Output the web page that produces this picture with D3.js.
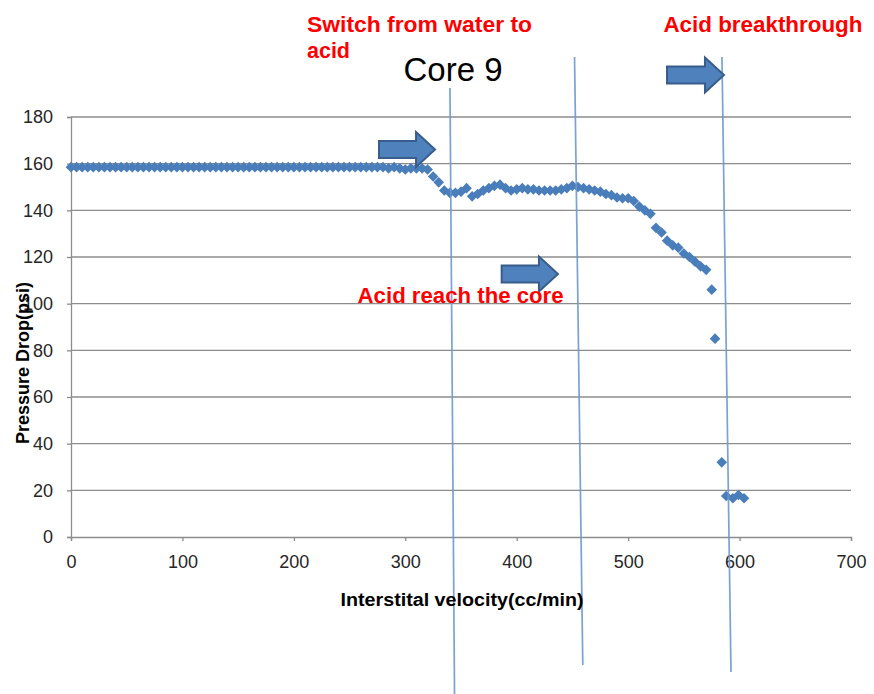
<!DOCTYPE html>
<html>
<head>
<meta charset="utf-8">
<script src="https://cdnjs.cloudflare.com/ajax/libs/d3/7.8.5/d3.min.js"></script>
<style>
  html, body { margin: 0; padding: 0; background: #ffffff; }
  svg { display: block; }
  text { font-family: "Liberation Sans", Arial, sans-serif; }
</style>
</head>
<body>
<svg id="chart" width="874" height="694"></svg>
<script>
// ---------- data ----------
const velocity = [
  0, 5, 10, 15, 20, 25, 30, 35, 40, 45, 50, 55, 60, 65, 70, 75, 80, 85, 90, 95,
  100, 105, 110, 115, 120, 125, 130, 135, 140, 145, 150, 155, 160, 165, 170, 175, 180, 185, 190, 195,
  200, 205, 210, 215, 220, 225, 230, 235, 240, 245, 250, 255, 260, 265, 270, 275, 280, 285, 290, 295,
  300, 305, 310, 315, 320, 325, 330, 335, 340, 345, 350, 355, 360, 365, 370, 375, 380, 385, 390, 395,
  400, 405, 410, 415, 420, 425, 430, 435, 440, 445, 450, 455, 460, 465, 470, 475, 480, 485, 490, 495,
  500, 505, 510, 515, 520, 525, 530, 535, 540, 545, 550, 555, 560, 565, 570, 575, 578, 584, 588, 594,
  599, 604
];
const pressureDrop = [
  158.5, 158.5, 158.5, 158.5, 158.5, 158.5, 158.5, 158.5, 158.5, 158.5, 158.5, 158.5, 158.5, 158.5, 158.5, 158.5, 158.5, 158.5, 158.5, 158.5,
  158.5, 158.5, 158.5, 158.5, 158.5, 158.5, 158.5, 158.5, 158.5, 158.5, 158.5, 158.5, 158.5, 158.5, 158.5, 158.5, 158.5, 158.5, 158.5, 158.5,
  158.5, 158.5, 158.5, 158.5, 158.5, 158.5, 158.5, 158.5, 158.5, 158.5, 158.5, 158.5, 158.5, 158.5, 158.5, 158.5, 158.5, 158, 158.5, 158,
  157.5, 158, 158, 158, 157.5, 154.5, 152, 148.5, 147.5, 147.5, 148, 149.5, 146, 147, 148.5, 149.5, 150.5, 151, 149.5, 148.5,
  149, 149.5, 149, 149, 148.5, 148.5, 148.5, 148.5, 149, 149.5, 150.5, 150, 149.5, 149, 148.5, 148, 147, 146.5, 145.5, 145.2,
  145.2, 144, 141.6, 140, 138.5, 132.5, 130.5, 127, 125, 124, 121.5, 120, 118, 116, 114.5, 106, 85, 32, 17.6, 16.6,
  18, 16.6
];
const xTicks = [0, 100, 200, 300, 400, 500, 600, 700];
const yTicks = [0, 20, 40, 60, 80, 100, 120, 140, 160, 180];

const chartTitle = "Core 9";
const xTitle = "Interstital velocity(cc/min)";
const yTitle = "Pressure Drop(psi)";

// annotation lines: [x1, y1, x2, y2] in data units
const markerLineNames = ["switch", "reach", "breakthrough"];
const markerLineX1 = [340.1, 451.9, 584.2];
const markerLineY1 = [192.4, 205.7, 205.7];
const markerLineX2 = [344.2, 459.3, 592.3];
const markerLineY2 = [-67.3, -54.9, -57.9];

// block arrows: tail x, tip x, centre y (data units)
const arrowTailX = [276.4, 386.5, 534.9];
const arrowTipX  = [326.7, 437.0, 586.0];
const arrowY     = [166.1, 112.7, 198.0];

// red annotation labels (left x, baseline y in data units)
const noteLines = ["Switch from water to", "acid", "Acid breakthrough", "Acid reach the core"];
const noteX = [211.8, 211.8, 531.7, 257.2];
const noteY = [216.5, 205.3, 216.5, 100.3];
const noteWidth = [225, 43, 199, 206];

// ---------- layout ----------
const svg = d3.select("#chart");
const W = 874, H = 694;
const plot = { left: 71, right: 851, top: 117, bottom: 537 };

const x = d3.scaleLinear().domain([0, 700]).range([plot.left, plot.right]);
const y = d3.scaleLinear().domain([0, 180]).range([plot.bottom, plot.top]);

svg.append("rect").attr("width", W).attr("height", H).attr("fill", "#ffffff");

// gridlines
svg.append("g")
  .attr("class", "grid")
  .selectAll("line")
  .data(yTicks.filter(d => d > 0))
  .join("line")
  .attr("x1", plot.left).attr("x2", plot.right)
  .attr("y1", d => y(d)).attr("y2", d => y(d))
  .attr("stroke", "#8c8c8c").attr("stroke-width", 1.3);

// y axis
const yAxis = svg.append("g")
  .attr("transform", `translate(${plot.left},0)`)
  .call(d3.axisLeft(y).tickValues(yTicks).tickSize(4).tickPadding(14).tickFormat(d3.format("d")));
yAxis.select(".domain").attr("stroke", "#8c8c8c").attr("stroke-width", 1.3);
yAxis.selectAll(".tick line").attr("stroke", "#8c8c8c").attr("stroke-width", 1.3);
yAxis.selectAll(".tick text")
  .attr("font-size", 18).attr("fill", "#262626")
  .attr("font-family", "'Liberation Sans', Arial, sans-serif");

// x axis
const xAxis = svg.append("g")
  .attr("transform", `translate(0,${plot.bottom})`)
  .call(d3.axisBottom(x).tickValues(xTicks).tickSize(4).tickPadding(14).tickFormat(d3.format("d")));
xAxis.select(".domain").attr("stroke", "#8c8c8c").attr("stroke-width", 1.3);
xAxis.selectAll(".tick line").attr("stroke", "#8c8c8c").attr("stroke-width", 1.3);
xAxis.selectAll(".tick text")
  .attr("font-size", 18).attr("fill", "#262626")
  .attr("font-family", "'Liberation Sans', Arial, sans-serif");

// data markers (diamonds)
const points = velocity.map((v, i) => ({ v, p: pressureDrop[i] }));
const diamond = "M0,-5.3L5.3,0L0,5.3L-5.3,0Z";
svg.append("g")
  .selectAll("path")
  .data(points)
  .join("path")
  .attr("d", diamond)
  .attr("transform", d => `translate(${x(d.v)},${y(d.p)})`)
  .attr("fill", "#4a7ebb");

// vertical annotation lines
svg.append("g")
  .selectAll("line")
  .data(markerLineNames.map((n, i) => ({ n, i })))
  .join("line")
  .attr("x1", d => x(markerLineX1[d.i])).attr("y1", d => y(markerLineY1[d.i]))
  .attr("x2", d => x(markerLineX2[d.i])).attr("y2", d => y(markerLineY2[d.i]))
  .attr("stroke", "#6d98cf").attr("stroke-width", 1.7).attr("stroke-opacity", 0.9);

// block arrows
const shaftHalf = 8.5, headHalf = 17.5, headLen = 19;
function arrowPath(tx, hx, cy) {
  const hb = hx - headLen;
  return `M${tx},${cy - shaftHalf}L${hb},${cy - shaftHalf}L${hb},${cy - headHalf}L${hx},${cy}` +
         `L${hb},${cy + headHalf}L${hb},${cy + shaftHalf}L${tx},${cy + shaftHalf}Z`;
}
svg.append("g")
  .selectAll("path")
  .data(arrowTailX.map((t, i) => i))
  .join("path")
  .attr("d", i => arrowPath(x(arrowTailX[i]), x(arrowTipX[i]), y(arrowY[i])))
  .attr("fill", "#4f81bd")
  .attr("stroke", "#385d8a")
  .attr("stroke-width", 2)
  .attr("stroke-linejoin", "miter");

// red notes
svg.append("g")
  .selectAll("text")
  .data(noteLines.map((t, i) => ({ t, i })))
  .join("text")
  .attr("x", d => x(noteX[d.i]))
  .attr("y", d => y(noteY[d.i]))
  .attr("font-size", 22)
  .attr("font-weight", "bold")
  .attr("fill", "#ff0000")
  .attr("textLength", d => noteWidth[d.i])
  .attr("lengthAdjust", "spacingAndGlyphs")
  .text(d => d.t);

// chart title
svg.append("text")
  .attr("x", 453).attr("y", 81)
  .attr("text-anchor", "middle")
  .attr("font-size", 33)
  .attr("fill", "#000000")
  .text(chartTitle);

// axis titles
svg.append("text")
  .attr("x", 462).attr("y", 606)
  .attr("text-anchor", "middle")
  .attr("font-size", 18)
  .attr("font-weight", "bold")
  .attr("fill", "#000000")
  .attr("textLength", 243)
  .attr("lengthAdjust", "spacingAndGlyphs")
  .text(xTitle);

svg.append("text")
  .attr("transform", "translate(29,363) rotate(-90)")
  .attr("text-anchor", "middle")
  .attr("font-size", 18)
  .attr("font-weight", "bold")
  .attr("fill", "#000000")
  .text(yTitle);
</script>
</body>
</html>
